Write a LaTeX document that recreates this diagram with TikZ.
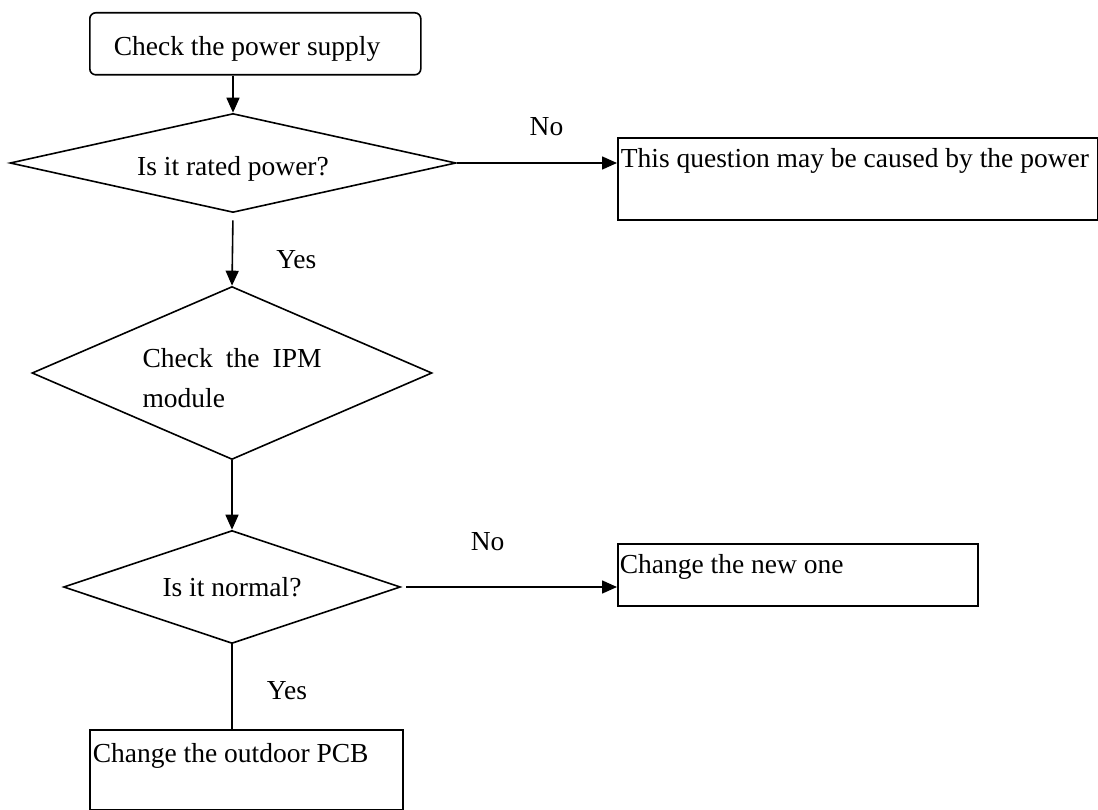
\documentclass[tikz,border=0pt]{standalone}
\usepackage{fontspec}
\setmainfont{Liberation Serif}
\usetikzlibrary{shapes.geometric, arrows.meta, positioning}

\begin{document}
\begin{tikzpicture}[x=1pt, y=-1pt, line width=1.6pt,
    every node/.style={font=\fontsize{27.5}{40}\selectfont},
    box/.style={draw, anchor=north west, align=flush left, inner ysep=0pt},
    decision/.style={draw, diamond, inner sep=0pt},
    arr/.style={-{Triangle[length=15pt, width=13pt]}},
    lbl/.style={inner sep=0pt}]
  \useasboundingbox (0,0) rectangle (1098,810);

  % Boxes
  \node[box, rounded corners=6pt, inner xsep=24pt, text width=283pt, text height=43pt, text depth=19pt] (supply) at (89,12) {Check the power supply};
  \node[box, inner xsep=3pt, text width=474pt, text height=30pt, text depth=52pt] (cause) at (617,137) {This question may be caused by the power};
  \node[box, inner xsep=2pt, text width=356pt, text height=30pt, text depth=32pt] (newone) at (617,543) {Change the new one};
  \node[box, inner xsep=3pt, text width=307pt, text height=33pt, text depth=47pt] (pcb) at (89,729) {Change the outdoor PCB};

  % Decisions
  \node[decision, shape aspect=4.5, minimum width=446pt, minimum height=99pt, text height=25pt, text depth=0pt] (rated) at (233,163) {Is it rated power?};
  \node[decision, shape aspect=2.3, minimum width=400pt, minimum height=173pt, text width=179pt, text height=29pt, align=justify] (ipm) at (232,373) {Check the IPM module};
  \node[decision, shape aspect=3, minimum width=337pt, minimum height=113pt] (normal) at (232,587) {Is it normal?};

  % Connectors
  \draw[arr] (rated.north |- supply.south) -- (rated.north);
  \draw[arr] (rated.east) -- node[lbl, pos=0.56, yshift=36pt] {No} (rated.east -| cause.west);
  \draw[arr, shorten <=7pt] (rated.south) -- node[lbl, pos=0.64, xshift=64pt] {Yes} (ipm.north);
  \draw[arr] (ipm.south) -- (normal.north);
  \draw[arr, shorten <=5pt] (normal.east) -- node[lbl, pos=0.4, yshift=45pt] {No} (normal.east -| newone.west);
  \draw (normal.south) -- node[lbl, pos=0.55, xshift=55pt] {Yes} (normal.south |- pcb.north);
\end{tikzpicture}
\end{document}
